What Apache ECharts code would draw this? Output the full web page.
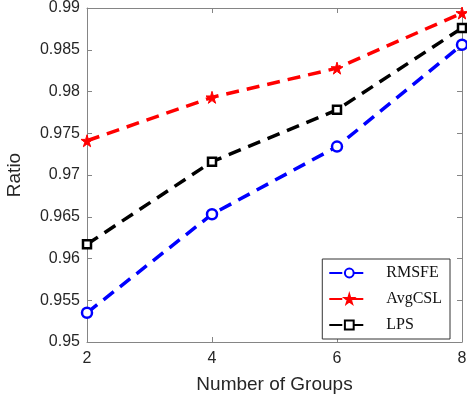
<!DOCTYPE html>
<html><head><meta charset="utf-8">
<script src="https://cdn.jsdelivr.net/npm/echarts@6/dist/echarts.min.js"></script>
<style>html,body{margin:0;padding:0;background:#fff}#c{width:467px;height:400px}</style>
</head><body><div id="c"></div>
<script>
const groups = [2, 4, 6, 8];
const rmsfe = [0.9535, 0.9653, 0.9734, 0.9856];
const avgcsl = [0.9741, 0.9793, 0.9828, 0.9894];
const lps = [0.9617, 0.9716, 0.9778, 0.9876];
const xTicks = [2, 4, 6, 8];
const yMin = 0.95, yMax = 0.99, yStep = 0.005;

const pair = (xs, ys) => xs.map((x, i) => [x, ys[i]]);
const axisCol = '#858585';
const sans = 'Liberation Sans, Arial, sans-serif';
const labelFont = {fontFamily: sans, fontSize: 16, color: '#262626'};

function mkSeries(name, data, color, symbol, size, fill, bw) {
  return {
    name, type: 'line', data: pair(groups, data),
    symbol, symbolSize: size,
    lineStyle: {color, width: 3.5, type: [13, 8]},
    itemStyle: {color: fill, borderColor: color, borderWidth: bw},
    color, z: 3
  };
}

const chart = echarts.init(document.getElementById('c'));
chart.setOption({
  animation: false,
  grid: {left: 87, right: 5, top: 8, bottom: 58, containLabel: false, outerBoundsMode: 'none'},
  xAxis: [{
    type: 'value', min: 2, max: 8, interval: 2,
    name: 'Number of Groups', nameLocation: 'middle', nameGap: 33,
    nameTextStyle: {fontFamily: sans, fontSize: 19, color: '#262626'},
    axisLine: {show: true, lineStyle: {color: axisCol, width: 1}},
    axisTick: {show: true, inside: true, length: 5, lineStyle: {color: axisCol}},
    axisLabel: Object.assign({margin: 9}, labelFont),
    splitLine: {show: false}
  }, {
    type: 'value', min: 2, max: 8, interval: 2, position: 'top',
    axisLine: {show: true, onZero: false, lineStyle: {color: axisCol, width: 1}},
    axisTick: {show: true, inside: true, length: 5, lineStyle: {color: axisCol}},
    axisLabel: {show: false}, splitLine: {show: false}
  }],
  yAxis: [{
    type: 'value', min: yMin, max: yMax, interval: yStep,
    name: 'Ratio', nameLocation: 'middle', nameGap: 63,
    nameTextStyle: {fontFamily: sans, fontSize: 19, color: '#262626'},
    axisLine: {show: true, lineStyle: {color: axisCol, width: 1}},
    axisTick: {show: true, inside: true, length: 5, lineStyle: {color: axisCol}},
    axisLabel: Object.assign({margin: 7, formatter: v => String(parseFloat(v.toFixed(3)))}, labelFont),
    splitLine: {show: false}
  }, {
    type: 'value', min: yMin, max: yMax, interval: yStep, position: 'right',
    axisLine: {show: true, onZero: false, lineStyle: {color: axisCol, width: 1}},
    axisTick: {show: true, inside: true, length: 5, lineStyle: {color: axisCol}},
    axisLabel: {show: false}, splitLine: {show: false}
  }],
  legend: {
    orient: 'vertical', right: 17, bottom: 61,
    backgroundColor: '#fff', borderColor: '#333', borderWidth: 1,
    padding: [6, 8, 6, 6], itemWidth: 40, itemHeight: 11, itemGap: 10,
    textStyle: {fontFamily: 'Liberation Serif, Times New Roman, serif', fontSize: 16, color: '#111', padding: [0, 0, 0, 12]},
    data: ['RMSFE', 'AvgCSL', 'LPS']
  },
  series: [
    mkSeries('RMSFE', rmsfe, '#0000ff', 'circle', 10, '#fff', 2.5),
    mkSeries('AvgCSL', avgcsl, '#ff0000', 'path://M50,0 L61,35 L98,35 L68,57 L79,91 L50,70 L21,91 L32,57 L2,35 L39,35 Z', 12, '#ff0000', 1),
    mkSeries('LPS', lps, '#000000', 'rect', 8, '#fff', 2.5)
  ]
});
</script></body></html>
